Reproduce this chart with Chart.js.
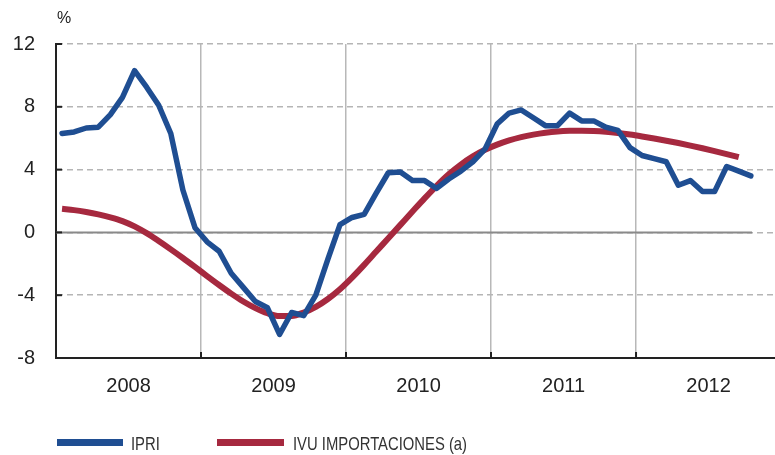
<!DOCTYPE html>
<html>
<head>
<meta charset="utf-8">
<script src="https://cdn.jsdelivr.net/npm/chart.js@4.4.1/dist/chart.umd.min.js"></script>
<style>
  html, body { margin: 0; padding: 0; background: #fff; }
  #wrap { width: 775px; height: 455px; }
</style>
</head>
<body>
<div id="wrap"><canvas id="chart" width="775" height="455"></canvas></div>
<script>
// monthly data, Jan 2008 .. Oct 2012
const yearLabels = ['2008', '2009', '2010', '2011', '2012'];
const yTicks = [-8, -4, 0, 4, 8, 12];

const ipri = [
  6.3, 6.4, 6.65, 6.7, 7.5, 8.6, 10.3, 9.25, 8.1, 6.3, 2.7, 0.3,
  -0.6, -1.2, -2.6, -3.5, -4.4, -4.8, -6.5, -5.1, -5.3, -4.0, -1.7, 0.5,
  0.95, 1.15, 2.5, 3.8, 3.85, 3.3, 3.3, 2.8, 3.4, 3.9, 4.5, 5.3,
  6.9, 7.6, 7.8, 7.3, 6.8, 6.8, 7.6, 7.1, 7.1, 6.7, 6.5, 5.4,
  4.9, 4.7, 4.5, 3.0, 3.3, 2.6, 2.6, 4.2, 3.9, 3.6
];

const ivuImport = [
  1.5, 1.42, 1.3, 1.15, 0.96, 0.72, 0.38, -0.05, -0.55, -1.08, -1.63, -2.2,
  -2.78, -3.35, -3.9, -4.4, -4.82, -5.15, -5.33, -5.32, -5.1, -4.74, -4.24, -3.62,
  -2.88, -2.07, -1.22, -0.37, 0.48, 1.33, 2.17, 2.97, 3.7, 4.32, 4.84, 5.26,
  5.59, 5.86, 6.07, 6.23, 6.35, 6.43, 6.47, 6.48, 6.46, 6.41, 6.33, 6.23,
  6.11, 5.98, 5.84, 5.69, 5.53, 5.36, 5.18, 4.99, 4.79
];

const BLUE = '#1F4E92';
const RED = '#A6293F';

const toPoints = arr => arr.map((v, i) => ({ x: i + 0.5, y: v }));

// extra drawing: % label, zero line, inner tick marks, legend
const extras = {
  id: 'extras',
  beforeDatasetsDraw(chart) {
    const { ctx, chartArea, scales } = chart;
    const x = scales.x, y = scales.y;
    ctx.save();
    // solid zero line over the data range
    ctx.strokeStyle = '#8a8a8a';
    ctx.lineWidth = 2;
    ctx.beginPath();
    ctx.moveTo(chartArea.left, y.getPixelForValue(0));
    ctx.lineTo(x.getPixelForValue(57.6), y.getPixelForValue(0));
    ctx.stroke();
    ctx.restore();
  },
  afterDraw(chart) {
    const { ctx, chartArea, scales } = chart;
    const x = scales.x, y = scales.y;
    ctx.save();
    // small tick marks inside the axes
    ctx.strokeStyle = '#222';
    ctx.lineWidth = 2;
    yTicks.forEach(t => {
      const py = y.getPixelForValue(t);
      ctx.beginPath();
      ctx.moveTo(chartArea.left, py);
      ctx.lineTo(chartArea.left + 6, py);
      ctx.stroke();
    });
    for (let m = 12; m < 60; m += 12) {
      const px = x.getPixelForValue(m);
      ctx.beginPath();
      ctx.moveTo(px, chartArea.bottom);
      ctx.lineTo(px, chartArea.bottom - 6);
      ctx.stroke();
    }

    // % unit
    ctx.fillStyle = '#222';
    ctx.font = '16px "Liberation Sans", Arial, sans-serif';
    ctx.textBaseline = 'middle';
    ctx.textAlign = 'left';
    ctx.fillText('%', 57, 19);

    // legend
    const items = [
      { label: 'IPRI', color: BLUE, x0: 57, x1: 123, tx: 131 },
      { label: 'IVU IMPORTACIONES (a)', color: RED, x0: 217, x1: 284, tx: 293 }
    ];
    items.forEach(it => {
      ctx.fillStyle = it.color;
      ctx.fillRect(it.x0, 439, it.x1 - it.x0, 7);
      ctx.save();
      ctx.translate(it.tx, 445);
      ctx.scale(0.78, 1);
      ctx.fillStyle = '#333';
      ctx.font = '19px "Liberation Sans", Arial, sans-serif';
      ctx.fillText(it.label, 0, 0);
      ctx.restore();
    });
    ctx.restore();
  }
};

new Chart(document.getElementById('chart'), {
  type: 'line',
  data: {
    datasets: [
      {
        label: 'IPRI',
        data: toPoints(ipri),
        borderColor: BLUE,
        borderWidth: 5.5,
        borderJoinStyle: 'round',
        borderCapStyle: 'round',
        pointRadius: 0,
        tension: 0
      },
      {
        label: 'IVU IMPORTACIONES (a)',
        data: toPoints(ivuImport),
        borderColor: RED,
        borderWidth: 6,
        borderCapStyle: 'butt',
        pointRadius: 0,
        cubicInterpolationMode: 'monotone'
      }
    ]
  },
  options: {
    responsive: false,
    animation: false,
    layout: { padding: { top: 44, right: 0, bottom: 0, left: 0 } },
    plugins: {
      legend: { display: false },
      tooltip: { enabled: false }
    },
    scales: {
      x: {
        type: 'linear',
        min: 0,
        max: 59.5,
        afterBuildTicks: scale => {
          scale.ticks = [0, 6, 12, 18, 24, 30, 36, 42, 48, 54].map(v => ({ value: v }));
        },
        afterFit: scale => { scale.height = 97; },
        ticks: {
          autoSkip: false,
          maxRotation: 0,
          padding: 16,
          color: '#222',
          font: { family: '"Liberation Sans", Arial, sans-serif', size: 20 },
          callback: v => (v % 12 === 6 ? yearLabels[(v - 6) / 12] : '')
        },
        grid: {
          drawTicks: false,
          lineWidth: 1.5,
          color: ctx => (ctx.tick && ctx.tick.value % 12 === 0 && ctx.tick.value > 0 ? '#b8b8b8' : 'rgba(0,0,0,0)')
        },
        border: { display: true, color: '#222', width: 2 }
      },
      y: {
        min: -8,
        max: 12,
        afterBuildTicks: scale => {
          scale.ticks = yTicks.map(v => ({ value: v }));
        },
        afterFit: scale => { scale.width = 56; },
        ticks: {
          padding: 21,
          color: '#222',
          font: { family: '"Liberation Sans", Arial, sans-serif', size: 20 }
        },
        grid: {
          drawTicks: false,
          lineWidth: 1.5,
          color: '#b5b5b5'
        },
        border: { display: true, color: '#222', width: 2, dash: [6, 4] }
      }
    }
  },
  plugins: [extras]
});
</script>
</body>
</html>
